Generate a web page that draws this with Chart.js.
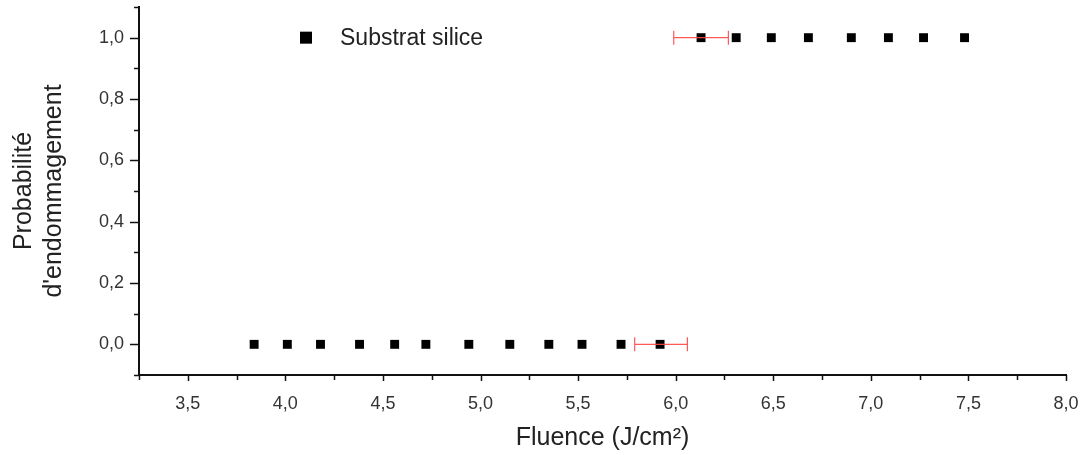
<!DOCTYPE html>
<html>
<head>
<meta charset="utf-8">
<script src="https://cdn.jsdelivr.net/npm/chart.js@4"></script>
<style>
  html, body { margin: 0; padding: 0; background: #fff; }
  #wrap { width: 1081px; height: 455px; position: relative; }
</style>
</head>
<body>
<div id="wrap"><canvas id="graficoProba"></canvas></div>
<script>
// valeurs
const fluenceBas = [3.84, 4.01, 4.18, 4.38, 4.56, 4.72, 4.94, 5.15, 5.35, 5.52, 5.72, 5.92];
const probaBas = [0, 0, 0, 0, 0, 0, 0, 0, 0, 0, 0, 0];
const fluenceHaut = [6.13, 6.31, 6.49, 6.68, 6.90, 7.09, 7.27, 7.48];
const probaHaut = [1, 1, 1, 1, 1, 1, 1, 1];
// barres d'erreur horizontales (point, demi-largeur)
const erreurX = [{ x: 5.925, y: 0, err: 0.135 }, { x: 6.13, y: 1, err: 0.14 }];
const ticksX = [3.5, 4.0, 4.5, 5.0, 5.5, 6.0, 6.5, 7.0, 7.5, 8.0];
const ticksY = [0.0, 0.2, 0.4, 0.6, 0.8, 1.0];
const legende = 'Substrat silice';

const points = fluenceBas.map((x, i) => ({ x: x, y: probaBas[i] }))
    .concat(fluenceHaut.map((x, i) => ({ x: x, y: probaHaut[i] })));

const police = 'Arial, "Liberation Sans", sans-serif';

function virgule(v, n) {
    return v.toFixed(n).replace('.', ',');
}

// petites et grandes graduations, barres d'erreur, légende
const pluginDessin = {
    id: 'dessin',
    afterDatasetsDraw(chart) {
        const ctx = chart.ctx;
        const sx = chart.scales.x;
        const sy = chart.scales.y;
        ctx.save();

        // barres d'erreur
        ctx.strokeStyle = 'rgba(255, 70, 70, 0.9)';
        ctx.lineWidth = 1.2;
        erreurX.forEach(e => {
            const py = sy.getPixelForValue(e.y);
            const x1 = sx.getPixelForValue(e.x - e.err);
            const x2 = sx.getPixelForValue(e.x + e.err);
            ctx.beginPath();
            ctx.moveTo(x1, py); ctx.lineTo(x2, py);
            ctx.moveTo(x1, py - 7); ctx.lineTo(x1, py + 7);
            ctx.moveTo(x2, py - 7); ctx.lineTo(x2, py + 7);
            ctx.stroke();
        });

        // graduations
        ctx.strokeStyle = '#111';
        ctx.lineWidth = 1.5;
        const bas = chart.chartArea.bottom;
        const gauche = chart.chartArea.left;
        for (let v = 3.25; v <= 8.0001; v += 0.25) {
            const px = Math.round(sx.getPixelForValue(v)) + 0.5;
            const major = Math.abs(v * 2 - Math.round(v * 2)) < 1e-6;
            ctx.beginPath();
            ctx.moveTo(px, bas);
            ctx.lineTo(px, bas + (major ? 6 : 5));
            ctx.stroke();
        }
        for (let v = -0.1; v <= 1.1001; v += 0.1) {
            const py = Math.round(sy.getPixelForValue(v)) + 0.5;
            const major = Math.abs(v * 5 - Math.round(v * 5)) < 1e-6;
            ctx.beginPath();
            ctx.moveTo(gauche, py);
            ctx.lineTo(gauche - (major ? 9 : 5), py);
            ctx.stroke();
        }

        // légende
        const ly = sy.getPixelForValue(1.0);
        ctx.fillStyle = '#000';
        ctx.fillRect(300, ly - 6, 12, 12);
        ctx.font = '23px ' + police;
        ctx.fillStyle = '#222';
        ctx.textBaseline = 'middle';
        ctx.fillText(legende, 340, ly + 1);
        ctx.restore();
    }
};

const ctx = document.getElementById('graficoProba').getContext('2d');
new Chart(ctx, {
    type: 'scatter',
    data: {
        datasets: [{
            label: legende,
            data: points,
            pointStyle: 'rect',
            pointRadius: 6.3,
            pointHoverRadius: 6.3,
            backgroundColor: '#000',
            borderColor: '#000',
            borderWidth: 0
        }]
    },
    options: {
        responsive: true,
        maintainAspectRatio: false,
        animation: false,
        layout: { padding: { top: 7, right: 15, left: 0, bottom: 0 } },
        plugins: {
            legend: { display: false },
            tooltip: { enabled: false }
        },
        scales: {
            x: {
                type: 'linear',
                min: 3.25,
                max: 8.0,
                afterBuildTicks(scale) {
                    scale.ticks = ticksX.map(v => ({ value: v }));
                },
                afterFit(scale) {
                    scale.height = 80;
                    scale.paddingLeft = 0;
                    scale.paddingRight = 0;
                },
                grid: { display: false, drawTicks: false },
                border: { display: true, color: '#111', width: 2 },
                ticks: {
                    padding: 18,
                    color: '#333',
                    font: { size: 18, family: police },
                    maxRotation: 0,
                    callback: v => virgule(v, 1)
                },
                title: {
                    display: true,
                    text: 'Fluence (J/cm²)',
                    color: '#222',
                    font: { size: 25, family: police },
                    padding: { top: 0, bottom: 2 }
                }
            },
            y: {
                type: 'linear',
                min: -0.1,
                max: 1.1,
                afterBuildTicks(scale) {
                    scale.ticks = ticksY.map(v => ({ value: v }));
                },
                afterFit(scale) {
                    scale.width = 139;
                    scale.paddingTop = 0;
                    scale.paddingBottom = 0;
                },
                grid: { display: false, drawTicks: false },
                border: { display: true, color: '#111', width: 2 },
                ticks: {
                    padding: 15,
                    color: '#333',
                    font: { size: 18, family: police },
                    callback: v => virgule(v, 1)
                },
                title: {
                    display: true,
                    text: ['Probabilité', "d'endommagement"],
                    color: '#222',
                    font: { size: 25, family: police, lineHeight: 1.2 },
                    padding: { top: 9, bottom: 0 }
                }
            }
        }
    },
    plugins: [pluginDessin]
});
</script>
</body>
</html>
